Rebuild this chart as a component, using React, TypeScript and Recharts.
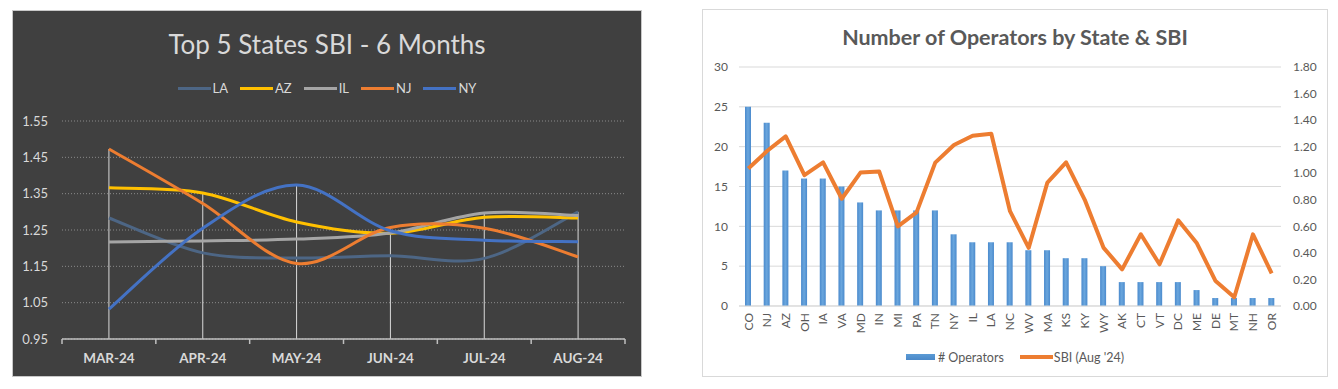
import React from "react";
import {
  LineChart,
  ComposedChart,
  Line,
  Bar,
  XAxis,
  YAxis,
  CartesianGrid,
  Legend,
  ReferenceLine,
} from "recharts";

// ---- left chart data: top 5 states SBI over 6 months ----
const months = ["MAR-24", "APR-24", "MAY-24", "JUN-24", "JUL-24", "AUG-24"];
const stateNames = ["LA", "AZ", "IL", "NJ", "NY"];
const laSbi = [1.283, 1.187, 1.173, 1.179, 1.172, 1.3];
const azSbi = [1.366, 1.352, 1.272, 1.241, 1.285, 1.283];
const ilSbi = [1.217, 1.22, 1.225, 1.242, 1.297, 1.29];
const njSbi = [1.473, 1.323, 1.158, 1.257, 1.255, 1.176];
const nySbi = [1.032, 1.255, 1.374, 1.248, 1.222, 1.218];
const trendTicks = [0.95, 1.05, 1.15, 1.25, 1.35, 1.45, 1.55];

// ---- right chart data: operators by state & SBI ----
const states = [
  "CO", "NJ", "AZ", "OH", "IA", "VA", "MD", "IN", "MI", "PA", "TN", "NY", "IL", "LA", "NC",
  "WV", "MA", "KS", "KY", "WY", "AK", "CT", "VT", "DC", "ME", "DE", "MT", "NH", "OR",
];
const operators = [25, 23, 17, 16, 16, 15, 13, 12, 12, 12, 12, 9, 8, 8, 8, 7, 7, 6, 6, 5, 3, 3, 3, 3, 2, 1, 1, 1, 1];
const sbiAug = [
  1.035, 1.167, 1.277, 0.985, 1.082, 0.808, 1.005, 1.013, 0.6, 0.705, 1.08, 1.212, 1.282, 1.297, 0.714,
  0.438, 0.93, 1.082, 0.8, 0.44, 0.276, 0.54, 0.314, 0.645, 0.472, 0.188, 0.066, 0.54, 0.245,
];
const opTicks = [0, 5, 10, 15, 20, 25, 30];
const sbiTicks = [0, 0.2, 0.4, 0.6, 0.8, 1.0, 1.2, 1.4, 1.6, 1.8];

const FONT = "Lato, 'Open Sans', sans-serif";
const stateColors = ["#4d6685", "#ffc000", "#a5a5a5", "#ed7d31", "#4472c4"];
const stateValues = [laSbi, azSbi, ilSbi, njSbi, nySbi];

const trendRows = months.map((m, i) => {
  const row: any = { month: m };
  stateNames.forEach((s, k) => (row[s] = stateValues[k][i]));
  row.peak = Math.max(...stateValues.map((v) => v[i]));
  return row;
});

const operatorRows = states.map((s, i) => ({ state: s, operators: operators[i], sbi: sbiAug[i] }));

// Excel-like smoothed line (Catmull-Rom as cubic bezier)
function smoothCurve(context: any) {
  let pts: number[][] = [];
  return {
    areaStart() {},
    areaEnd() {},
    lineStart() {
      pts = [];
    },
    point(x: number, y: number) {
      pts.push([+x, +y]);
    },
    lineEnd() {
      if (!pts.length) return;
      context.moveTo(pts[0][0], pts[0][1]);
      for (let i = 0; i < pts.length - 1; i++) {
        const p0 = pts[i - 1] || pts[i];
        const p1 = pts[i];
        const p2 = pts[i + 1];
        const p3 = pts[i + 2] || p2;
        const t = 1 / 6;
        context.bezierCurveTo(
          p1[0] + (p2[0] - p0[0]) * t,
          p1[1] + (p2[1] - p0[1]) * t,
          p2[0] - (p3[0] - p1[0]) * t,
          p2[1] - (p3[1] - p1[1]) * t,
          p2[0],
          p2[1]
        );
      }
    },
  };
}

const L_W = 630;
const L_H = 367;
const L_MARGIN = { top: 111, right: 17, left: 10, bottom: 0 };
const L_YW = 40;
const L_BAND = (L_W - L_MARGIN.left - L_YW - L_MARGIN.right) / months.length;

function MonthTick(props: any) {
  const { x, y, payload, index } = props;
  const h = L_BAND / 2;
  return (
    <g>
      <line x1={x - h} x2={x - h} y1={y} y2={y + 5} stroke="#bfbfbf" strokeWidth={1.5} />
      {index === months.length - 1 && (
        <line x1={x + h} x2={x + h} y1={y} y2={y + 5} stroke="#bfbfbf" strokeWidth={1.5} />
      )}
      <text x={x} y={y + 24} textAnchor="middle" fill="#d9d9d9" fontWeight={700} fontSize={13.5} fontFamily={FONT}>
        {payload.value}
      </text>
    </g>
  );
}

function TrendLegend() {
  return (
    <div style={{ display: "flex", justifyContent: "center", alignItems: "center", height: 16, fontFamily: FONT, fontSize: 13, color: "#d9d9d9" }}>
      {stateNames.map((s, i) => (
        <div key={s} style={{ display: "flex", alignItems: "center", marginRight: i < stateNames.length - 1 ? 12 : 0 }}>
          <div style={{ width: 33, height: 3, background: stateColors[i], marginRight: 2 }} />
          <span>{s}</span>
        </div>
      ))}
    </div>
  );
}

function TrendChart() {
  return (
    <div style={{ position: "absolute", left: 12, top: 10, width: L_W, height: L_H, background: "#404040", border: "1px solid #c8c8c8", boxSizing: "border-box" }}>
      <div style={{ position: "absolute", left: -1, top: -1 }}>
        <LineChart width={L_W} height={L_H} data={trendRows} margin={L_MARGIN}>
          <CartesianGrid vertical={false} stroke="#8a8a8a" strokeDasharray="1 2" />
          <XAxis dataKey="month" interval={0} height={38} padding={{ left: L_BAND / 2, right: L_BAND / 2 }} tickSize={0} tickMargin={0} tickLine={false} axisLine={{ stroke: "#bfbfbf", strokeWidth: 1.5 }} tick={<MonthTick />} />
          <YAxis domain={[0.95, 1.55]} ticks={trendTicks} width={L_YW} tickSize={0} tickMargin={14} axisLine={false} tickLine={false} tickFormatter={(v: number) => v.toFixed(2)} tick={{ fill: "#d9d9d9", fontSize: 13, fontFamily: FONT }} />
          {trendRows.map((r) => (
            <ReferenceLine key={r.month} segment={[{ x: r.month, y: 0.95 }, { x: r.month, y: r.peak }]} stroke="#d9d9d9" strokeWidth={1} />
          ))}
          {stateNames.map((s, k) => (
            <Line key={s} dataKey={s} name={s} type={smoothCurve as any} stroke={stateColors[k]} strokeWidth={3} dot={false} activeDot={false} isAnimationActive={false} />
          ))}
          <Legend layout="horizontal" verticalAlign="middle" align="center" wrapperStyle={{ top: 70, left: 0, width: L_W }} content={() => <TrendLegend />} />
        </LineChart>
      </div>
      <div style={{ position: "absolute", left: 0, right: 0, top: 18, textAlign: "center", fontFamily: FONT, fontSize: 26, lineHeight: "30px", color: "#d9d9d9" }}>
        Top 5 States SBI - 6 Months
      </div>
    </div>
  );
}

const R_W = 626;
const R_H = 368;

function StateTick(props: any) {
  const { x, y, payload } = props;
  const ty = y + 7;
  return (
    <text x={x} y={ty} transform={`rotate(-90 ${x} ${ty})`} textAnchor="end" dy="0.35em" fill="#595959" fontSize={12} fontFamily={FONT}>
      {payload.value}
    </text>
  );
}

function OperatorLegend({ payload }: any) {
  return (
    <div style={{ display: "flex", justifyContent: "center", alignItems: "center", height: 16, fontFamily: FONT, fontSize: 12.5, color: "#595959" }}>
      {(payload || []).map((p: any, i: number) => (
        <div key={p.value} style={{ display: "flex", alignItems: "center", marginRight: i < payload.length - 1 ? 16 : 0 }}>
          {p.type === "rect" ? (
            <div style={{ width: 29, height: 6, background: "linear-gradient(#5b9bd5, #4a88c8)", marginRight: 3 }} />
          ) : (
            <div style={{ width: 33, height: 4, background: p.color, marginRight: 1 }} />
          )}
          <span>{p.value}</span>
        </div>
      ))}
    </div>
  );
}

function OperatorChart() {
  return (
    <div style={{ position: "absolute", left: 702, top: 9, width: R_W, height: R_H, background: "#ffffff", border: "1px solid #d9d9d9", boxSizing: "border-box" }}>
      <div style={{ position: "absolute", left: -1, top: -1 }}>
        <ComposedChart width={R_W} height={R_H} data={operatorRows} margin={{ top: 58, right: 7, left: 7, bottom: 0 }}>
          <defs>
            <linearGradient id="opBar" x1="0" y1="0" x2="1" y2="0">
              <stop offset="0%" stopColor="#4a8acd" />
              <stop offset="50%" stopColor="#6aa6dd" />
              <stop offset="100%" stopColor="#4a8acd" />
            </linearGradient>
          </defs>
          <CartesianGrid vertical={false} stroke="#d9d9d9" yAxisId="ops" />
          <XAxis dataKey="state" interval={0} height={71} tickSize={0} tickMargin={0} tickLine={false} axisLine={{ stroke: "#d9d9d9" }} tick={<StateTick />} />
          <YAxis yAxisId="ops" domain={[0, 30]} ticks={opTicks} width={30} tickSize={0} tickMargin={11} axisLine={false} tickLine={false} tick={{ fill: "#595959", fontSize: 12, fontFamily: FONT }} />
          <YAxis yAxisId="sbi" orientation="right" domain={[0, 1.8]} ticks={sbiTicks} width={40} tickSize={0} tickMargin={12} axisLine={false} tickLine={false} tickFormatter={(v: number) => v.toFixed(2)} tick={{ fill: "#595959", fontSize: 12, fontFamily: FONT, textAnchor: "start" }} />
          <Bar yAxisId="ops" dataKey="operators" name="# Operators" legendType="rect" fill="url(#opBar)" barSize={6} isAnimationActive={false} />
          <Line yAxisId="sbi" dataKey="sbi" name="SBI (Aug '24)" legendType="line" type="linear" stroke="#ed7d31" strokeWidth={4} strokeLinejoin="round" dot={false} activeDot={false} isAnimationActive={false} />
          <Legend layout="horizontal" verticalAlign="middle" align="center" wrapperStyle={{ top: 340, left: 0, width: R_W }} content={(p: any) => <OperatorLegend payload={p.payload} />} />
        </ComposedChart>
      </div>
      <div style={{ position: "absolute", left: 0, right: 0, top: 14, textAlign: "center", fontFamily: FONT, fontWeight: 700, fontSize: 21.5, lineHeight: "26px", color: "#595959" }}>
        Number of Operators by State &amp; SBI
      </div>
    </div>
  );
}

export default function App() {
  return (
    <div style={{ position: "relative", width: 1338, height: 389, background: "#ffffff", overflow: "hidden" }}>
      <style>{"body{margin:0}"}</style>
      <TrendChart />
      <OperatorChart />
    </div>
  );
}
